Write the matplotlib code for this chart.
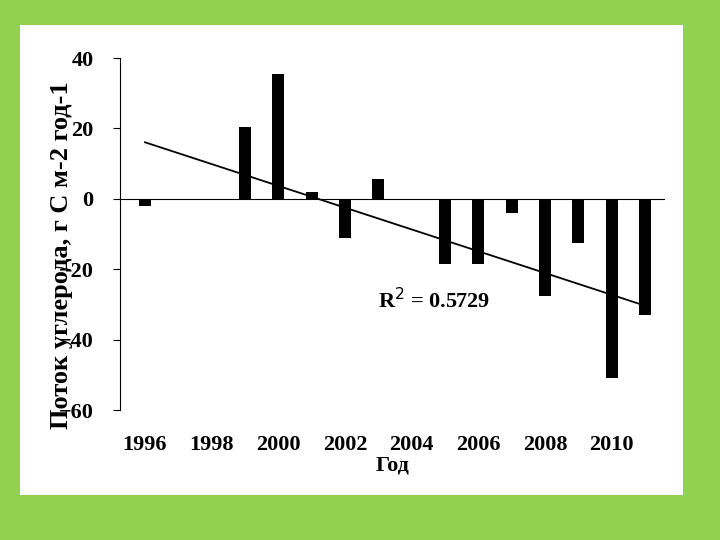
import matplotlib
matplotlib.use("Agg")
import matplotlib.pyplot as plt
import numpy as np

years = [1996, 1997, 1998, 1999, 2000, 2001, 2002, 2003, 2004, 2005, 2006, 2007, 2008, 2009, 2010, 2011]
flux = [-2, 0, 0, 20.5, 35.5, 2, -11, 5.5, 0, -18.5, -18.5, -4, -27.5, -12.5, -51, -33]
xticks = [1996, 1998, 2000, 2002, 2004, 2006, 2008, 2010]

plt.rcParams['font.family'] = ['Liberation Serif', 'DejaVu Serif']
fig = plt.figure(figsize=(7.2, 5.4), dpi=100)
fig.patch.set_facecolor('#92D050')
bg = fig.add_axes([20/720, 45/540, 663/720, 470/540], zorder=-1)
bg.set_facecolor('white')
bg.set_xlim(0, 663); bg.set_ylim(0, 470)
bg.axis('off')
bg.add_patch(plt.Rectangle((0, 0), 663, 470, facecolor='white', edgecolor='none'))
t = bg.text(42, 240, 'Поток углерода, г С м-2 год-1', rotation=90, fontsize=19,
            fontweight='bold', ha='center', va='center', clip_on=True)

ax = fig.add_axes([120/720, 130/540, 545/720, 352/540])
ax.set_facecolor('none')
ax.bar(years, flux, width=0.36, color='black')
c = np.polyfit(years, flux, 1)
xl = np.array([years[0], years[-1]])
ax.plot(xl, np.polyval(c, xl), color='black', lw=1.3)
ax.axhline(0, color='black', lw=0.8)
ax.set_xlim(1995.25, 2011.6)
ax.set_ylim(-60, 40)
ax.set_yticks([40, 20, 0, -20, -40, -60])
ax.set_xticks(xticks)
for s in ['top', 'right', 'bottom']:
    ax.spines[s].set_visible(False)
ax.tick_params(axis='x', length=0, pad=18, labelsize=16)
ax.tick_params(axis='y', direction='out', length=5, labelsize=16, pad=14)
for tl in ax.get_xticklabels() + ax.get_yticklabels():
    tl.set_fontweight('bold')
ax.set_xlabel('Год', fontsize=16, fontweight='bold', labelpad=0)
ax.text(2003.0, -29, 'R$^2$ = 0.5729', fontsize=16, fontweight='bold', va='center')
fig.savefig('out.png', dpi=100, facecolor=fig.get_facecolor())
